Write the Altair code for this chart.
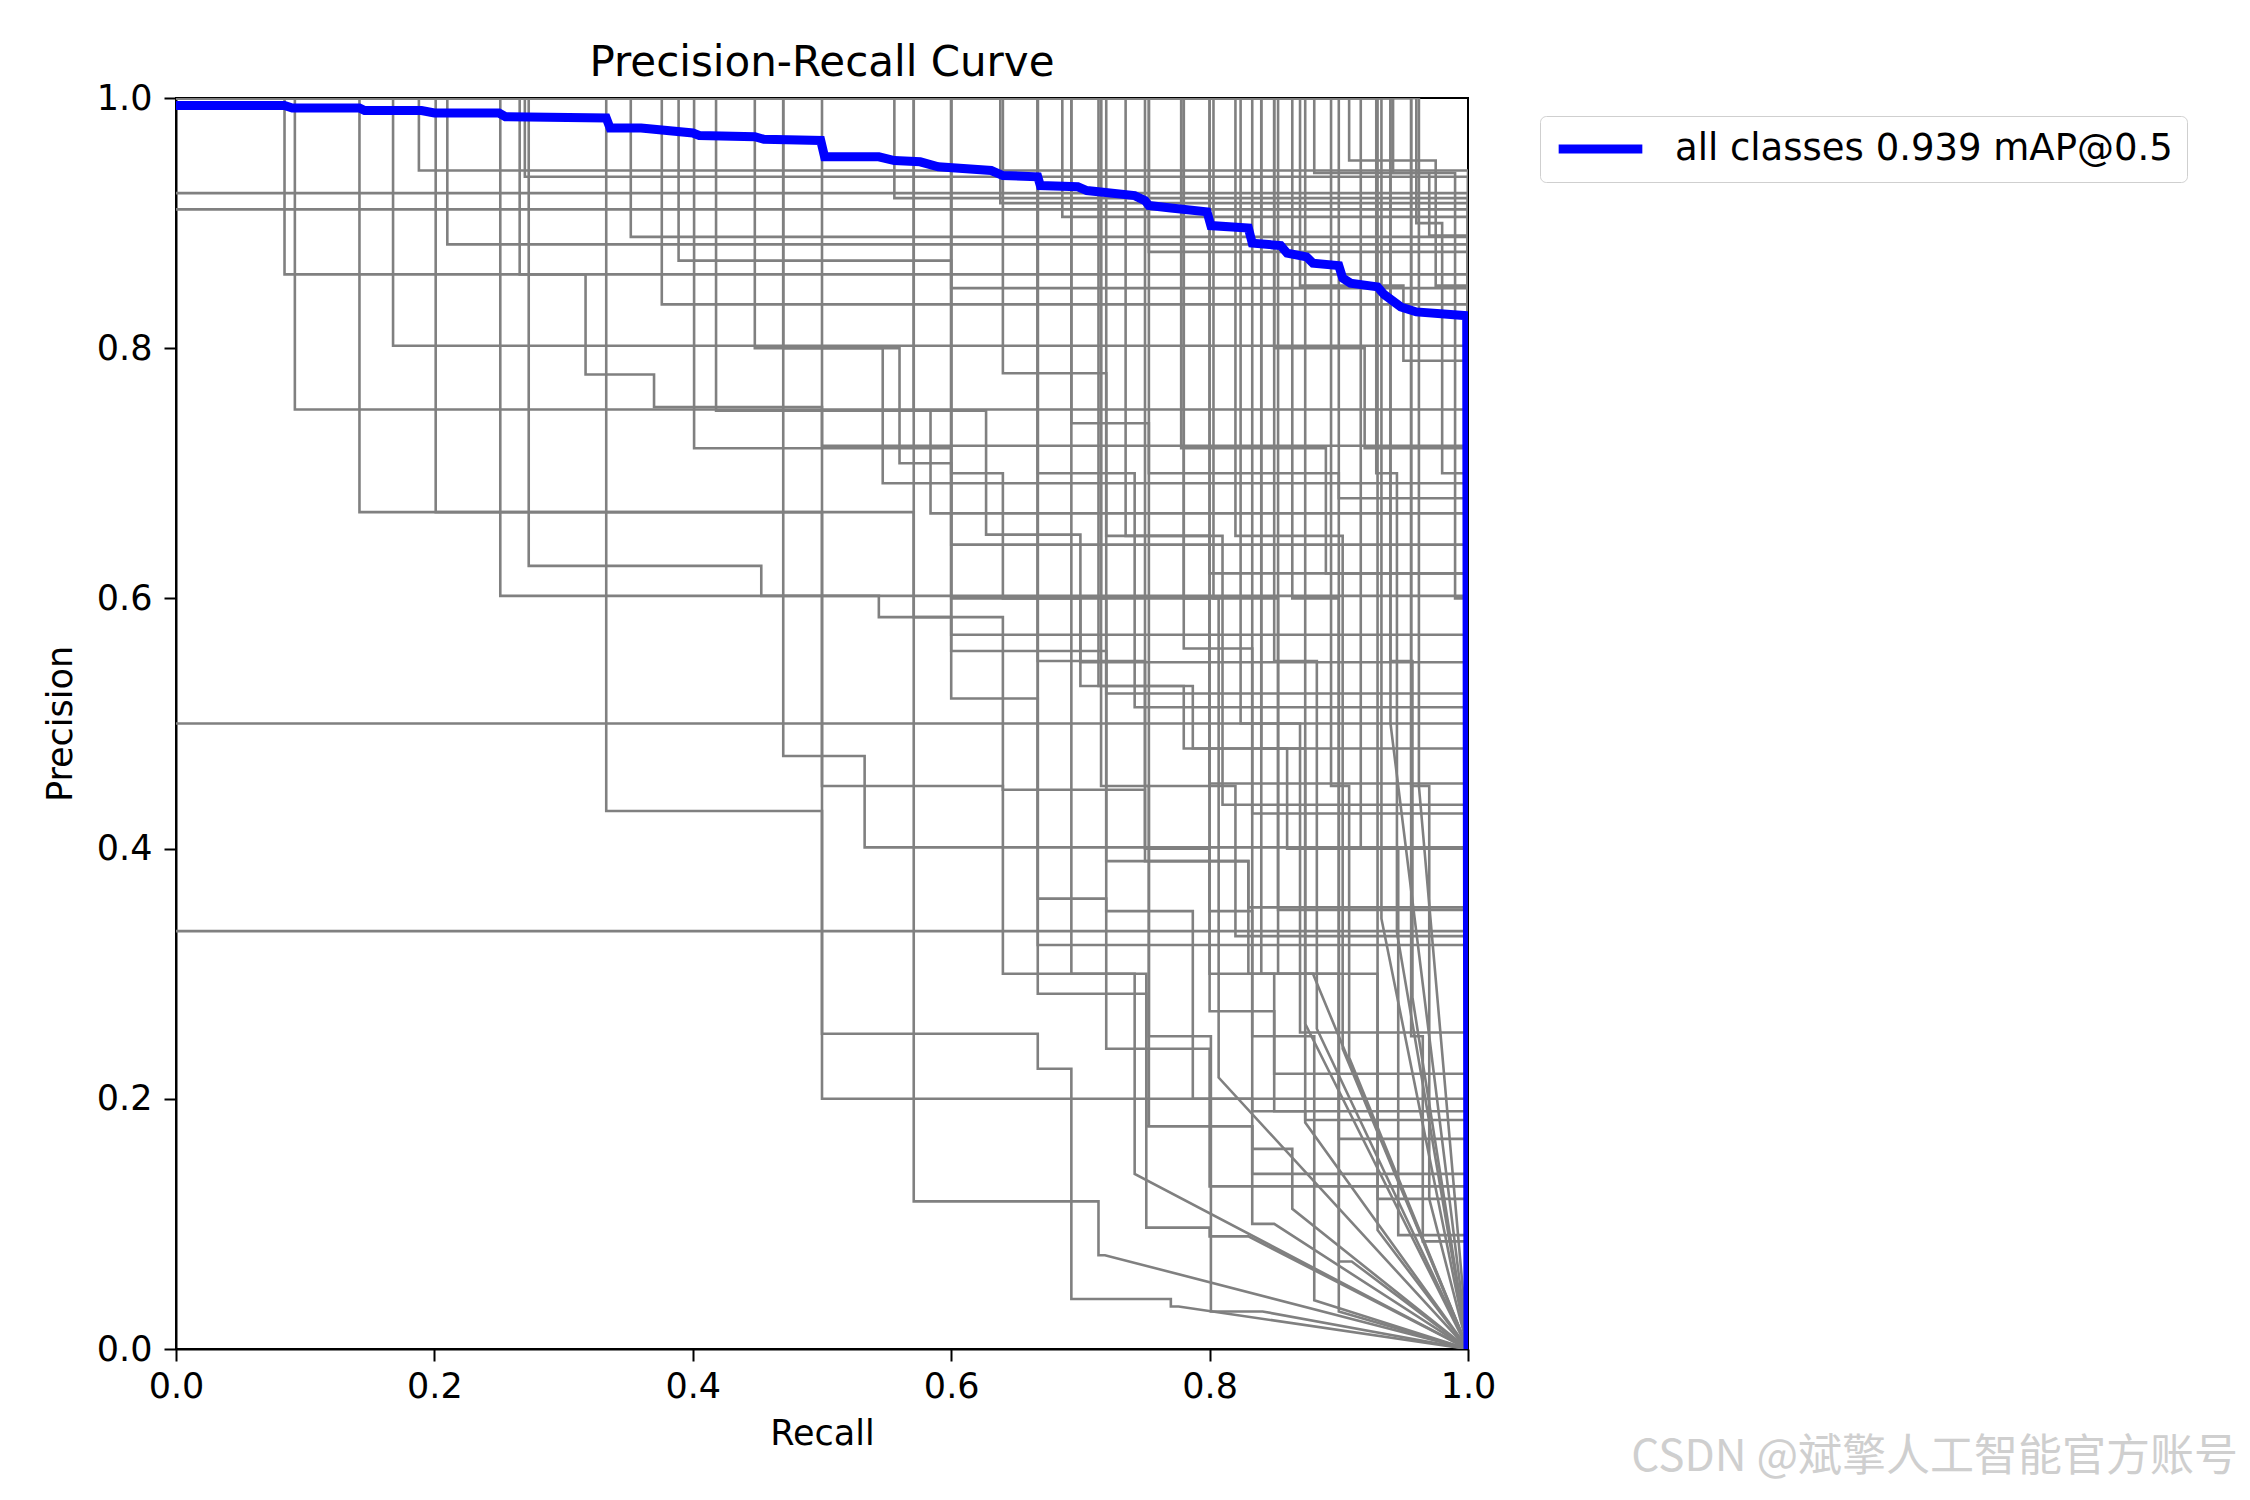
import altair as alt
import pandas as pd

# ---------------- data ----------------
recall_ticks = [0.0, 0.2, 0.4, 0.6, 0.8, 1.0]
precision_ticks = [0.0, 0.2, 0.4, 0.6, 0.8, 1.0]

title_text = "Precision-Recall Curve"
legend_label = "all classes 0.939 mAP@0.5"
watermark = "CSDN @斌擎人工智能官方账号"

# mean curve (all classes)
blue_recall = [0, 0.084, 0.09, 0.142, 0.146, 0.19, 0.2, 0.25, 0.255, 0.333,
               0.336, 0.36, 0.4, 0.405, 0.448, 0.455, 0.499, 0.502, 0.544, 0.556,
               0.576, 0.59, 0.631, 0.64, 0.667, 0.669, 0.698, 0.705, 0.742, 0.75,
               0.753, 0.77, 0.798, 0.801, 0.83, 0.833, 0.855, 0.86, 0.875, 0.88,
               0.9, 0.903, 0.909, 0.93, 0.935, 0.948, 0.96, 0.999, 1.0]
blue_precision = [0.994, 0.994, 0.992, 0.992, 0.990, 0.990, 0.988, 0.988, 0.985, 0.984,
                  0.976, 0.976, 0.972, 0.970, 0.969, 0.967, 0.966, 0.953, 0.953, 0.950,
                  0.949, 0.945, 0.942, 0.938, 0.937, 0.930, 0.929, 0.926, 0.922, 0.918,
                  0.914, 0.912, 0.909, 0.898, 0.896, 0.884, 0.882, 0.876, 0.873, 0.868,
                  0.866, 0.856, 0.852, 0.849, 0.843, 0.833, 0.829, 0.826, 0.0]

# per-class curves that reach recall 1 (then drop straight to 0):
# (start precision, [(recall where it drops, new precision), ...])
full_recall_curves = [
    (0.924, []),
    (0.911, []),
    (0.500, []),
    (0.334, []),
    (1.0, [(0.188, 0.942)]),
    (1.0, [(0.270, 0.937)]),
    (1.0, [(0.556, 0.920)]),
    (1.0, [(0.638, 0.916)]),
    (1.0, [(0.210, 0.883)]),
    (1.0, [(0.352, 0.889)]),
    (1.0, [(0.686, 0.905)]),
    (1.0, [(0.753, 0.877)]),
    (1.0, [(0.084, 0.859)]),
    (1.0, [(0.389, 0.870), (0.600, 0.848)]),
    (1.0, [(0.376, 0.835)]),
    (1.0, [(0.168, 0.802)]),
    (1.0, [(0.092, 0.751)]),
    (1.0, [(0.266, 0.859), (0.317, 0.779), (0.370, 0.753), (0.500, 0.722)]),
    (1.0, [(0.470, 0.800), (0.547, 0.692)]),
    (1.0, [(0.418, 0.750), (0.584, 0.668)]),
    (1.0, [(0.448, 0.800), (0.560, 0.708), (0.600, 0.643)]),
    (1.0, [(0.251, 0.602)]),
    (1.0, [(0.273, 0.626), (0.453, 0.602), (0.544, 0.585), (0.600, 0.571)]),
    (1.0, [(0.571, 0.750), (0.627, 0.651), (0.700, 0.549)]),
    (1.0, [(0.401, 0.720), (0.600, 0.558), (0.720, 0.524)]),
    (1.0, [(0.667, 0.700), (0.742, 0.513)]),
    (1.0, [(0.600, 0.600), (0.700, 0.530), (0.780, 0.480)]),
    (1.0, [(0.470, 0.474), (0.533, 0.401)]),
    (1.0, [(0.716, 0.600), (0.800, 0.452)]),
    (1.0, [(0.735, 0.650), (0.810, 0.435)]),
    (1.0, [(0.780, 0.560), (0.833, 0.428)]),
    (1.0, [(0.803, 0.600), (0.853, 0.351)]),
    (1.0, [(0.667, 0.550), (0.750, 0.450), (0.820, 0.330)]),
    (1.0, [(0.600, 0.520), (0.667, 0.323)]),
    (1.0, [(0.824, 0.500), (0.870, 0.253)]),
    (1.0, [(0.201, 0.669), (0.500, 0.200)]),
    (1.0, [(0.840, 0.480), (0.874, 0.183)]),
    (1.0, [(0.864, 0.600), (0.900, 0.168)]),
    (1.0, [(0.917, 0.400), (0.946, 0.091)]),
    (1.0, [(0.956, 0.250), (0.965, 0.086)]),
    (1.0, [(0.908, 0.950), (0.975, 0.850)]),
    (1.0, [(0.881, 0.940), (0.970, 0.890)]),
    (1.0, [(0.942, 0.940), (0.990, 0.600)]),
    (1.0, [(0.600, 0.700), (0.640, 0.600), (0.720, 0.390), (0.830, 0.353)]),
    (1.0, [(0.640, 0.780), (0.720, 0.650), (0.800, 0.620)]),
    (1.0, [(0.693, 0.740), (0.753, 0.700), (0.900, 0.680)]),
    (1.0, [(0.714, 0.530), (0.787, 0.480), (0.860, 0.400)]),
    (1.0, [(0.778, 0.720), (0.890, 0.620)]),
    (1.0, [(0.850, 0.800), (0.920, 0.720)]),
    (1.0, [(0.870, 0.850), (0.950, 0.790)]),
    (1.0, [(0.960, 0.900), (0.980, 0.700)]),
    (1.0, [(0.667, 0.284), (0.751, 0.178), (0.833, 0.140)]),
    (1.0, [(0.800, 0.300), (0.850, 0.190)]),
    (1.0, [(0.900, 0.300), (0.930, 0.120)]),
    (1.0, [(0.750, 0.400), (0.800, 0.270), (0.850, 0.220)]),
    (1.0, [(0.667, 0.360), (0.720, 0.240), (0.800, 0.130)]),
]

# per-class curves that stop short of recall 1 and then run straight to (1, 0):
# (start precision, [(recall where it drops, new precision), ...], last recall)
partial_recall_curves = [
    (1.0, [(0.142, 0.669), (0.571, 0.118), (0.714, 0.075)], 0.719),
    (1.0, [(0.333, 0.430), (0.500, 0.252), (0.667, 0.224), (0.693, 0.040),
           (0.770, 0.034)], 0.776),
    (1.0, [(0.500, 0.450), (0.640, 0.300), (0.742, 0.140)], 0.742),
    (1.0, [(0.780, 0.600), (0.807, 0.217)], 0.807),
    (1.0, [(0.716, 0.450), (0.753, 0.178), (0.833, 0.160), (0.864, 0.112)], 0.864),
    (1.0, [(0.800, 0.350), (0.833, 0.190), (0.874, 0.181)], 0.874),
    (1.0, [(0.850, 0.550), (0.883, 0.256)], 0.883),
    (1.0, [(0.894, 0.450), (0.908, 0.233)], 0.908),
    (1.0, [(0.929, 0.700), (0.945, 0.333)], 0.945),
    (1.0, [(0.940, 0.550), (0.957, 0.281)], 0.957),
    (1.0, [(0.956, 0.450), (0.970, 0.120)], 0.970),
    (1.0, [(0.833, 0.250), (0.881, 0.039)], 0.881),
    (1.0, [(0.853, 0.300), (0.900, 0.030)], 0.900),
    (1.0, [(0.753, 0.250), (0.801, 0.030)], 0.841),
    (1.0, [(0.874, 0.260)], 0.874),
    (1.0, [(0.820, 0.650), (0.903, 0.240)], 0.903),
    (1.0, [(0.933, 0.344)], 0.933),
    (1.0, [(0.940, 0.500)], 0.940),
    (1.0, [(0.962, 0.450)], 0.962),
    (1.0, [(0.840, 0.300), (0.900, 0.070)], 0.910),
    (1.0, [(0.930, 0.095)], 0.930),
    (1.0, [(0.571, 0.585), (0.640, 0.447), (0.750, 0.390), (0.830, 0.300)], 0.880),
    (1.0, [(0.693, 0.300), (0.751, 0.097), (0.800, 0.090)], 0.830),
    (1.0, [(0.720, 0.350), (0.787, 0.200), (0.833, 0.100)], 0.850),
]

# ---------------- build tables ----------------
all_curves = [(p0, d, 1.0) for p0, d in full_recall_curves] + list(partial_recall_curves)
rows = []
for ci, (p0, drops, end) in enumerate(all_curves):
    pts = [(0.0, p0)]
    cur = p0
    for r, p in drops:
        pts.append((r, cur))
        pts.append((r, p))
        cur = p
    pts.append((end, cur))
    pts.append((1.0, 0.0))
    for k, (r, p) in enumerate(pts):
        rows.append({"cls": f"c{ci}", "idx": k, "recall": r, "precision": p})
df_gray = pd.DataFrame(rows)

df_blue = pd.DataFrame({
    "recall": blue_recall,
    "precision": blue_precision,
    "idx": list(range(len(blue_recall))),
    "label": [legend_label] * len(blue_recall),
})

FONT = "DejaVu Sans"

x_enc = alt.X(
    "recall:Q",
    scale=alt.Scale(domain=[0, 1], nice=False, zero=False),
    axis=alt.Axis(values=recall_ticks, format=".1f", labelFontSize=35, labelFont=FONT,
                  labelColor="black", tickSize=12, tickWidth=2, tickColor="black",
                  domainColor="black", domainWidth=2, grid=False, labelFlush=False,
                  labelOverlap=False, labelPadding=8, title="Recall", titleFontSize=35,
                  titleFont=FONT, titleFontWeight="normal", titleColor="black",
                  titlePadding=12),
)
y_enc = alt.Y(
    "precision:Q",
    scale=alt.Scale(domain=[0, 1], nice=False, zero=False),
    axis=alt.Axis(values=precision_ticks, format=".1f", labelFontSize=35, labelFont=FONT,
                  labelColor="black", tickSize=12, tickWidth=2, tickColor="black",
                  domainColor="black", domainWidth=2, grid=False, labelFlush=False,
                  labelOverlap=False, labelPadding=12, title="Precision", titleFontSize=35,
                  titleFont=FONT, titleFontWeight="normal", titleColor="black",
                  titlePadding=18),
)

gray = alt.Chart(df_gray).mark_line(color="#808080", strokeWidth=2.6, clip=True).encode(
    x=x_enc, y=y_enc, detail="cls:N", order="idx:Q"
)

blue = alt.Chart(df_blue).mark_line(strokeWidth=9, clip=True).encode(
    x="recall:Q",
    y="precision:Q",
    order="idx:Q",
    color=alt.Color(
        "label:N",
        scale=alt.Scale(domain=[legend_label], range=["#0000ff"]),
        legend=alt.Legend(title=None, orient="none", legendX=1364, legendY=18,
                          symbolType="stroke", symbolStrokeWidth=9, symbolSize=7000,
                          clipHeight=38,
                          labelFontSize=37, labelFont=FONT, labelColor="black",
                          labelOffset=28, labelLimit=1200, padding=14,
                          strokeColor="#cfcfcf", fillColor="white", cornerRadius=6),
    ),
)

title_mark = alt.Chart(pd.DataFrame({"t": [title_text]})).mark_text(
    align="center", baseline="alphabetic", font=FONT, fontSize=42, color="black"
).encode(text="t:N", x=alt.value(646), y=alt.value(-22))

wm = alt.Chart(pd.DataFrame({"t": [watermark]})).mark_text(
    align="right", baseline="middle", font="Noto Sans CJK SC", fontSize=44,
    color="#cfcfcf"
).encode(text="t:N", x=alt.value(2062), y=alt.value(1360))

chart = alt.layer(gray, blue, title_mark, wm).properties(
    width=1292,
    height=1251,
    autosize=alt.AutoSizeParams(type="none"),
    padding={"left": 168, "top": 90, "right": 770, "bottom": 150},
).configure_view(stroke="black", strokeWidth=2)

chart.save("out.html", embed_options={"renderer": "svg", "actions": False})
